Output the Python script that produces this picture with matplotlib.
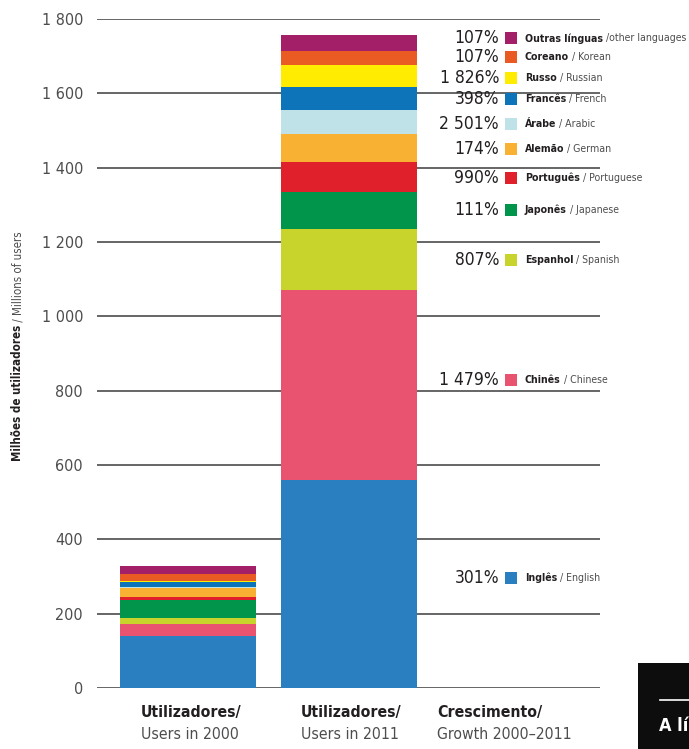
import matplotlib
matplotlib.use("Agg")
import matplotlib.pyplot as plt
from matplotlib.patches import Rectangle

# ---------------- data ----------------
languages_pt = ['Inglês', 'Chinês', 'Espanhol', 'Japonês', 'Português', 'Alemão',
                'Árabe', 'Francês', 'Russo', 'Coreano', 'Outras línguas']
languages_en = ['English', 'Chinese', 'Spanish', 'Japanese', 'Portuguese', 'German',
                'Arabic', 'French', 'Russian', 'Korean', 'other languages']
users_2000 = [139, 32, 18, 47, 8, 26, 3, 12, 4, 18, 21]
users_2011 = [559, 511, 164, 100, 81, 75, 65, 61, 59, 38, 43]
growth_labels = ['301%', '1 479%', '807%', '111%', '990%', '174%',
                 '2 501%', '398%', '1 826%', '107%', '107%']
category_bold = ['Utilizadores/', 'Utilizadores/', 'Crescimento/']
category_sub = ['Users in 2000', 'Users in 2011', 'Growth 2000–2011']
y_ticks = [0, 200, 400, 600, 800, 1000, 1200, 1400, 1600, 1800]
y_tick_labels = ['0', '200', '400', '600', '800', '1 000', '1 200', '1 400', '1 600', '1 800']

# ---------------- style / layout ----------------
colors = ['#2a7fc1', '#e9536f', '#c8d32c', '#00954a', '#e0202a', '#f8b133',
          '#bfe2e8', '#0e74ba', '#ffec00', '#ea5b24', '#a31f67']
legend_y = [296, 828, 1151, 1286, 1372, 1450, 1517, 1584, 1641, 1697, 1748]
plt.rcParams['font.family'] = ['DejaVu Sans']
plt.rcParams['font.stretch'] = 'condensed'
DARK = '#231f20'
GREY = '#4d4d4f'

fig = plt.figure(figsize=(6.89, 7.49), dpi=100)
ax = fig.add_axes([97 / 689, 1 - 688 / 749, 503 / 689, 669 / 749])
ax.set_xlim(-0.565, 2.559)
ax.set_ylim(0, 1800)

for s in ax.spines.values():
    s.set_visible(False)
for t in y_ticks:
    ax.axhline(t, color='#3c3c3c', lw=1.1, zorder=0)

ax.set_yticks(y_ticks)
ax.set_yticklabels(y_tick_labels, fontsize=11.5, color=GREY)
ax.tick_params(axis='y', length=0, pad=10)
ax.set_xticks([])

# stacked bars
width = 0.845
for xpos, vals in [(0, users_2000), (1, users_2011)]:
    bottom = 0
    for v, c in zip(vals, colors):
        ax.bar(xpos, v, width=width, bottom=bottom, color=c, edgecolor='none', zorder=2)
        bottom += v

# legend column
x_pct = 1.932
x_sq = 2.006
x_lab = 2.093
for pct, pt, en, c, ly in zip(growth_labels, languages_pt, languages_en, colors, legend_y):
    ax.text(x_pct, ly, pct, ha='right', va='center', fontsize=12.5, color=DARK)
    ax.scatter([x_sq], [ly], marker='s', s=78, color=c, edgecolors='none', zorder=3)
    t1 = ax.text(x_lab, ly, pt, ha='left', va='center', fontsize=7.6,
                 fontweight='bold', color=DARK)
    sep = ' /' if pt == 'Outras línguas' else ' / '
    ax.annotate(sep + en, xy=(1, 0.5), xycoords=t1, ha='left', va='center',
                fontsize=7.6, color=GREY)

# category labels under the chart
cat_x = [-0.292, 0.70, 1.547]
for cx, b, s in zip(cat_x, category_bold, category_sub):
    ax.text(cx, -0.037, b, transform=ax.get_xaxis_transform(), ha='left', va='center',
            fontsize=11.3, fontweight='bold', color=DARK)
    ax.text(cx, -0.070, s, transform=ax.get_xaxis_transform(), ha='left', va='center',
            fontsize=11.3, color=GREY)

# y-axis label (bold + regular)
yl = fig.text(18 / 689, 1 - 461 / 749, 'Milhões de utilizadores', rotation=90,
              ha='center', va='bottom', fontsize=8.3, fontweight='bold', color=DARK)
ax.annotate(' / Millions of users', xy=(0.5, 1), xycoords=yl, rotation=90,
            ha='center', va='bottom', fontsize=8.3, color=GREY, annotation_clip=False)

# cropped neighbouring panel at bottom right
fig.patches.append(Rectangle((638 / 689, 0), 51 / 689, 86 / 749, transform=fig.transFigure,
                             facecolor='#0d0d0d', edgecolor='none', zorder=5))
fig.lines.append(plt.Line2D([660 / 689, 1.0], [1 - 700 / 749, 1 - 700 / 749],
                            transform=fig.transFigure, color='white', lw=1.2, zorder=6))
fig.text(659 / 689, 1 - 726 / 749, 'A lí', ha='left', va='center', fontsize=13,
         fontweight='bold', color='white', zorder=7)

fig.savefig('out.png', dpi=100)
